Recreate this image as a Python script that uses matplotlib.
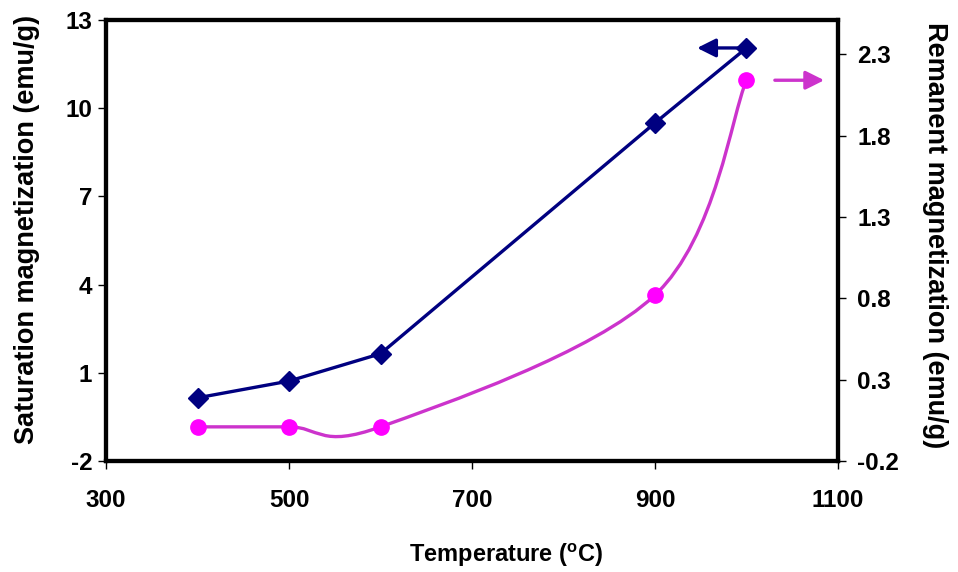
import matplotlib
matplotlib.use('Agg')
import matplotlib.pyplot as plt
from matplotlib.path import Path
import matplotlib.patches as patches
import numpy as np

plt.rcParams['font.family'] = ['Liberation Sans', 'DejaVu Sans']
plt.rcParams['axes.unicode_minus'] = False

temp = [400, 500, 600, 900, 1000]
ms_vals = [0.15, 0.72, 1.65, 9.5, 12.05]     # saturation magnetization (emu/g)
mr_vals = [0.01, 0.01, 0.01, 0.82, 2.14]     # remanent magnetization (emu/g)

navy = '#000080'
pink = '#CC33CC'
pink_mk = '#FF00FF'


def smooth_path(xs, ys):
    # Excel-like smoothed line: bezier segments, control points from neighbours
    pts = np.column_stack([xs, ys]).astype(float)
    n = len(pts)
    verts = [pts[0]]
    codes = [Path.MOVETO]
    for i in range(n - 1):
        p0 = pts[max(i - 1, 0)]
        p1 = pts[i]
        p2 = pts[i + 1]
        p3 = pts[min(i + 2, n - 1)]
        c1 = p1 + (p2 - p0) / 6.0
        c2 = p2 - (p3 - p1) / 6.0
        verts += [c1, c2, p2]
        codes += [Path.CURVE4] * 3
    return Path(verts, codes)


fig = plt.figure(figsize=(9.58, 5.72), dpi=100)
ax1 = fig.add_axes([0.1107, 0.194, 0.764, 0.771])
ax2 = ax1.twinx()

ax1.plot(temp, ms_vals, '-D', color=navy, lw=2.4, ms=10, zorder=3)

ax2.add_patch(patches.PathPatch(smooth_path(temp, mr_vals), ec=pink, fc='none', lw=2.4, zorder=2))
ax2.plot(temp, mr_vals, 'o', color=pink_mk, ms=11, zorder=3)

ax1.set_xlim(300, 1100)
ax1.set_ylim(-2, 13)
ax2.set_ylim(-0.2, 2.51)
ax1.set_xticks([300, 500, 700, 900, 1100])
ax1.set_yticks([-2, 1, 4, 7, 10, 13])
ax2.set_yticks([-0.2, 0.3, 0.8, 1.3, 1.8, 2.3])
ax2.set_yticklabels(['-0.2', '0.3', '0.8', '1.3', '1.8', '2.3'])

for ax in (ax1, ax2):
    for s in ax.spines.values():
        s.set_linewidth(3)
    ax.tick_params(labelsize=17.5, width=1.0, length=6, direction='out')
    for lab in ax.get_xticklabels() + ax.get_yticklabels():
        lab.set_fontweight('bold')
ax1.tick_params(axis='x', pad=14)
ax1.tick_params(axis='y', pad=4)
ax2.tick_params(axis='y', pad=8)

ax1.set_xlabel('Temperature ($\\mathregular{^oC}$)', fontsize=17, fontweight='bold')
ax1.xaxis.set_label_coords(0.546, -0.183)
ax1.set_ylabel('Saturation magnetization (emu/g)', fontsize=19.5, fontweight='bold')
ax1.yaxis.set_label_coords(-0.090, 0.526)
ax2.set_ylabel('Remanent magnetization (emu/g)', fontsize=19.5, fontweight='bold', rotation=270)
ax2.yaxis.set_label_coords(1.150, 0.512)

# arrows pointing to each series' axis
ax1.annotate('', xy=(943, 12.05), xytext=(1000, 12.05),
             arrowprops=dict(arrowstyle='-|>', color=navy, lw=2.4, mutation_scale=28))
ax2.annotate('', xy=(1088, 2.14), xytext=(1028, 2.14),
             arrowprops=dict(arrowstyle='-|>', color=pink, lw=2.4, mutation_scale=28),
             annotation_clip=False)

fig.savefig('out.png', dpi=100)
